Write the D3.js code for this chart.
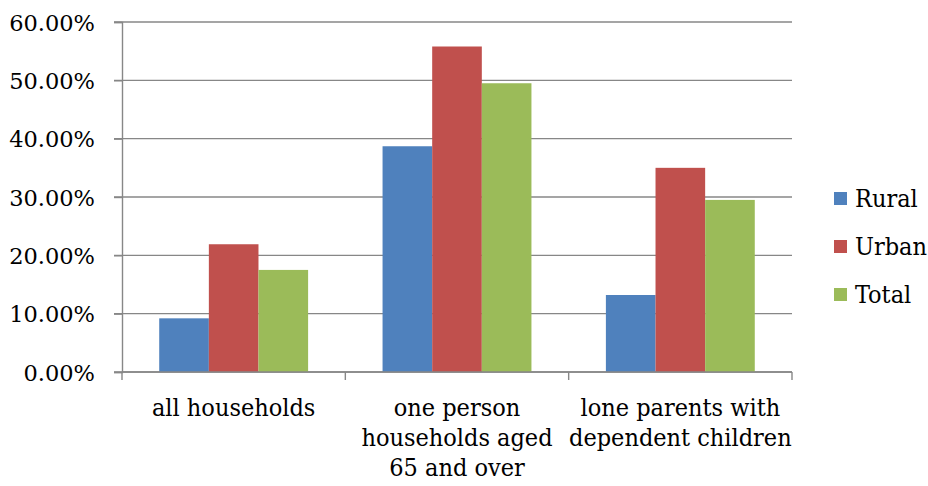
<!DOCTYPE html>
<html>
<head>
<meta charset="utf-8">
<script src="https://cdn.jsdelivr.net/npm/d3@7"></script>
<style>
  html, body { margin: 0; padding: 0; background: #fff; }
  svg { display: block; }
  text { font-family: "DejaVu Serif", serif; fill: #000; }
</style>
</head>
<body>
<svg id="chart" width="928" height="486"></svg>
<script>
// Share of households, by area type
const categories = [
  ["all households"],
  ["one person", "households aged", "65 and over"],
  ["lone parents with", "dependent children"]
];
const seriesNames = ["Rural", "Urban", "Total"];
const rural = [0.092, 0.387, 0.132];
const urban = [0.219, 0.558, 0.350];
const total = [0.175, 0.495, 0.295];
const yTicks = [0, 0.1, 0.2, 0.3, 0.4, 0.5, 0.6];
const colors = ["#4F81BD", "#C0504D", "#9BBB59"];

const series = [rural, urban, total];

const svg = d3.select("#chart");
const plot = { left: 122, right: 792, top: 22, bottom: 372 };

const x0 = d3.scaleBand()
  .domain(d3.range(categories.length))
  .range([plot.left, plot.right])
  .paddingInner(0)
  .paddingOuter(0);

// bars fill 3 of 4.5 bar-widths in each group (gap width 150%)
const x1 = d3.scaleBand()
  .domain(d3.range(seriesNames.length))
  .range([0, x0.bandwidth()])
  .paddingInner(0)
  .paddingOuter(0.75);

const y = d3.scaleLinear().domain([0, 0.6]).range([plot.bottom, plot.top]);

// horizontal gridlines
svg.append("g")
  .selectAll("line")
  .data(yTicks)
  .join("line")
  .attr("x1", plot.left - 8)
  .attr("x2", plot.right)
  .attr("y1", d => y(d))
  .attr("y2", d => y(d))
  .attr("stroke", "#878787")
  .attr("stroke-width", 1.4);

// bars
const groups = svg.append("g")
  .selectAll("g")
  .data(categories.map((c, i) => i))
  .join("g")
  .attr("transform", i => `translate(${x0(i)},0)`);

groups.selectAll("rect")
  .data(i => series.map((s, k) => ({ k, v: s[i] })))
  .join("rect")
  .attr("x", d => x1(d.k))
  .attr("width", x1.bandwidth())
  .attr("y", d => y(d.v))
  .attr("height", d => y(0) - y(d.v))
  .attr("fill", d => colors[d.k]);

// y axis
const yAxis = d3.axisLeft(y)
  .tickValues(yTicks)
  .tickFormat(d3.format(".2%"))
  .tickSize(8)
  .tickPadding(19);
const gy = svg.append("g")
  .attr("transform", `translate(${plot.left},0)`)
  .call(yAxis);
gy.select(".domain").attr("stroke", "#878787").attr("stroke-width", 1.4);
gy.selectAll(".tick line").attr("stroke", "#878787").attr("stroke-width", 1.4);
gy.selectAll(".tick text")
  .style("font-family", "'DejaVu Serif', serif")
  .style("font-size", "22.5px")
  .attr("dy", "0.36em");

// x axis: tick marks at group boundaries
const boundaries = d3.range(categories.length + 1).map(i =>
  i < categories.length ? x0(i) : x0(i - 1) + x0.bandwidth());
const gx = svg.append("g");
gx.append("line")
  .attr("x1", plot.left).attr("x2", plot.right)
  .attr("y1", plot.bottom).attr("y2", plot.bottom)
  .attr("stroke", "#878787").attr("stroke-width", 1.4);
gx.selectAll("line.tk")
  .data(boundaries)
  .join("line")
  .attr("class", "tk")
  .attr("x1", d => d).attr("x2", d => d)
  .attr("y1", plot.bottom).attr("y2", plot.bottom + 8)
  .attr("stroke", "#878787").attr("stroke-width", 1.4);

// category labels
const labels = svg.append("g")
  .selectAll("text")
  .data(categories.map((c, i) => ({ c, i })))
  .join("text")
  .attr("x", d => x0(d.i) + x0.bandwidth() / 2)
  .attr("y", 416)
  .attr("text-anchor", "middle")
  .style("font-size", "25px")
  .style("font-stretch", "condensed");
labels.selectAll("tspan")
  .data(d => d.c.map((line, j) => ({ line, j, cx: x0(d.i) + x0.bandwidth() / 2 })))
  .join("tspan")
  .attr("x", d => d.cx)
  .attr("dy", d => d.j === 0 ? 0 : 30)
  .text(d => d.line);

// legend
const legend = svg.append("g")
  .selectAll("g")
  .data(seriesNames.map((n, k) => ({ n, k })))
  .join("g")
  .attr("transform", d => `translate(834,${198 + d.k * 48})`);
legend.append("rect")
  .attr("x", 0).attr("y", -6)
  .attr("width", 13).attr("height", 13)
  .attr("fill", d => colors[d.k]);
legend.append("text")
  .attr("x", 21).attr("y", 0)
  .attr("dy", "0.36em")
  .style("font-size", "25px")
  .style("font-stretch", "condensed")
  .text(d => d.n);
</script>
</body>
</html>
